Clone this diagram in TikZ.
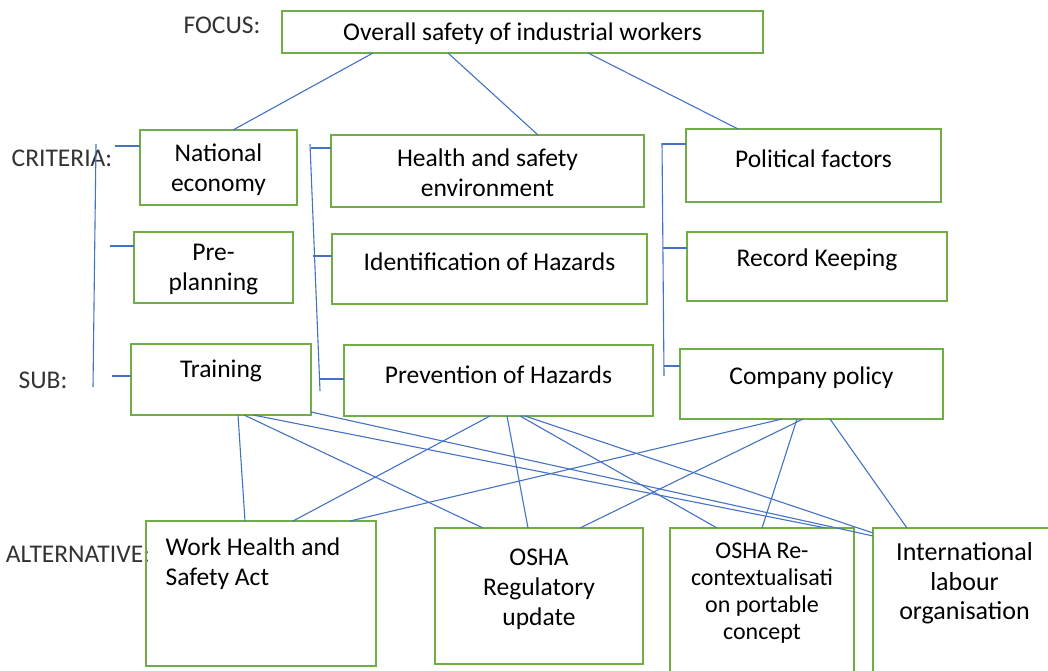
\documentclass[tikz,border=0pt]{standalone}
\usepackage{fontspec}
\setmainfont{Carlito}
\definecolor{boxgreen}{RGB}{112,173,71}
\definecolor{linkblue}{RGB}{68,114,196}
\begin{document}
\begin{tikzpicture}[x=1pt,y=-1pt,
  box/.style={draw=boxgreen,line width=2.2pt,inner sep=0pt,outer sep=0pt},
  txt/.style={font=\fontsize{25.5}{30}\selectfont,align=center,text=black,inner sep=0pt,yshift=-2pt},
  tag/.style={font=\fontsize{25.5}{30}\selectfont,text=black!80,inner sep=0pt},
  link/.style={draw=linkblue,line width=1.1pt},
]
\clip (0,0) rectangle (1048,671);
\fill[white] (0,0) rectangle (1048,671);

% level tags
\node[tag] (tfocus) at (222,25) {FOCUS:};
\node[tag] (tcrit) at (62,158) {CRITERIA:};
\node[tag] (tsub) at (43,380) {SUB:};
\node[tag] (talt) at (78,554) {ALTERNATIVE:};

% focus
\node[box,minimum width=481pt,minimum height=42pt,label={[txt]center:{Overall safety of industrial workers}}] (focus) at (522.5,32) {};

% criteria
\node[box,minimum width=157pt,minimum height=75pt,label={[txt]center:{National\\economy}}] (ne) at (218.5,167.5) {};
\node[box,minimum width=313pt,minimum height=72pt,label={[txt]center:{Health and safety\\environment}}] (hse) at (487.5,171) {};
\node[box,minimum width=255pt,minimum height=73pt,label={[txt,yshift=8.5pt]center:{Political factors}}] (pf) at (813.5,165.5) {};

% sub-criteria
\node[box,minimum width=159pt,minimum height=71pt,label={[txt]center:{Pre-\\planning}}] (pp) at (213.5,267.5) {};
\node[box,minimum width=315pt,minimum height=70pt,label={[txt,yshift=9pt]center:{Identification of Hazards}}] (ioh) at (489.5,269) {};
\node[box,minimum width=260pt,minimum height=69pt,label={[txt,yshift=8.5pt]center:{Record Keeping}}] (rk) at (817,266.5) {};
\node[box,minimum width=180pt,minimum height=71pt,label={[txt,yshift=10.5pt]center:{Training}}] (tr) at (221,379.5) {};
\node[box,minimum width=309pt,minimum height=71pt,label={[txt,yshift=7.5pt]center:{Prevention of Hazards}}] (poh) at (498.5,380.5) {};
\node[box,minimum width=263pt,minimum height=70pt,label={[txt,yshift=8pt]center:{Company policy}}] (cp) at (811.5,384) {};

% alternatives
\node[box,minimum width=230pt,minimum height=145pt,label={[txt,align=left,xshift=-8pt,yshift=31.5pt]center:{Work Health and\\Safety Act}}] (whs) at (261,593.5) {};
\node[box,minimum width=208pt,minimum height=136pt,label={[txt,yshift=9pt]center:{OSHA\\Regulatory\\update}}] (osr) at (539,596) {};
\node[box,minimum width=184pt,minimum height=172pt,label={[txt,font=\fontsize{24}{27}\selectfont,yshift=22.5pt]center:{OSHA Re-\\contextualisati\\on portable\\concept}}] (ore) at (762,614) {};
\node[box,minimum width=183pt,minimum height=172pt,label={[txt,font=\fontsize{26}{29.5}\selectfont,yshift=32.5pt]center:{International\\labour\\organisation}}] (ilo) at (964.5,614) {};

% focus to criteria
\draw[link] ([xshift=91pt]focus.south west) -- ([xshift=93pt]ne.north west);
\draw[link] ([xshift=166pt]focus.south west) -- ([xshift=207pt]hse.north west);
\draw[link] ([xshift=306pt]focus.south west) -- ([xshift=52pt]pf.north west);

% brackets
\coordinate (lbt) at (96,144);
\coordinate (lbb) at (93,387);
\coordinate (lt1) at (115,146);
\coordinate (lt2) at (110,246);
\coordinate (lt3) at (112,376);
\draw[link] (lbt) -- (lbb);
\draw[link] (lt1) -- (lt1 -| ne.west);
\draw[link] (lt2) -- (lt2 -| pp.west);
\draw[link] (lt3) -- (lt3 -| tr.west);

\coordinate (mbt) at (310,144);
\coordinate (mbb) at (320,391);
\coordinate (mt1) at (311,148);
\coordinate (mt2) at (313,256);
\coordinate (mt3) at (320,379);
\draw[link] (mbt) -- (mbb);
\draw[link] (mt1) -- (mt1 -| hse.west);
\draw[link] (mt2) -- (mt2 -| ioh.west);
\draw[link] (mt3) -- (mt3 -| poh.west);

\coordinate (rbt) at (662,143);
\coordinate (rbb) at (664,376);
\coordinate (rt1) at (662,144);
\coordinate (rt2) at (663,248);
\coordinate (rt3) at (664,366);
\draw[link] (rbt) -- (rbb);
\draw[link] (rt1) -- (rt1 -| pf.west);
\draw[link] (rt2) -- (rt2 -| rk.west);
\draw[link] (rt3) -- (rt3 -| cp.west);

% sub-criteria to alternatives
\draw[link] ([xshift=107pt]tr.south west) -- ([xshift=99pt]whs.north west);
\draw[link] ([xshift=113pt]tr.south west) -- ([xshift=48pt]osr.north west);
\draw[link] ([xshift=122pt]tr.south west) -- ([xshift=156pt]ore.north west);
\draw[link] ([yshift=3pt]tr.south east) -- ([yshift=-8pt]ilo.north west);

\draw[link] ([xshift=146pt]poh.south west) -- ([xshift=147pt]whs.north west);
\draw[link] ([xshift=163pt]poh.south west) -- ([xshift=93pt]osr.north west);
\draw[link] ([xshift=176pt]poh.south west) -- ([xshift=47pt]ore.north west);
\draw[link] ([xshift=181pt]poh.south west) -- ([yshift=-5pt]ilo.north west);

\draw[link] ([xshift=102pt]cp.south west) -- ([xshift=204pt]whs.north west);
\draw[link] ([xshift=123pt]cp.south west) -- ([xshift=145pt]osr.north west);
\draw[link] ([xshift=117pt]cp.south west) -- ([xshift=92pt]ore.north west);
\draw[link] ([xshift=150pt]cp.south west) -- ([xshift=34pt]ilo.north west);
\end{tikzpicture}
\end{document}
